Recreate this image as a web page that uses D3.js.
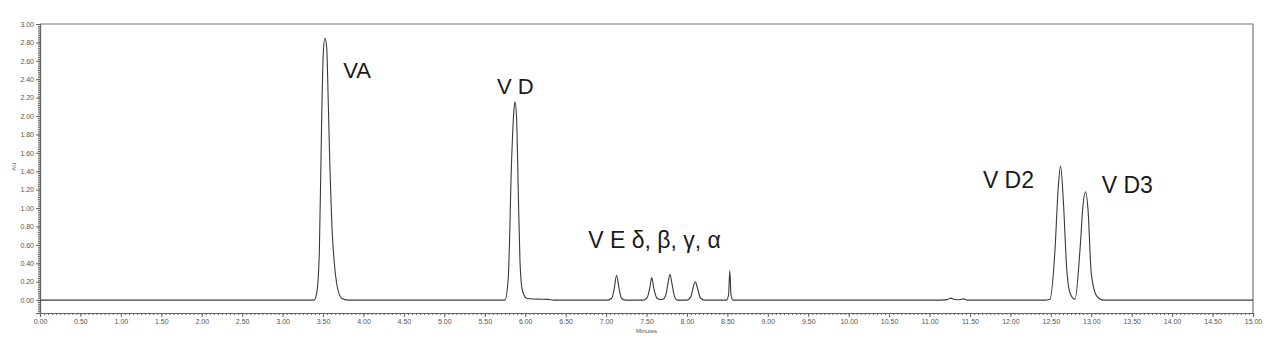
<!DOCTYPE html>
<html>
<head>
<meta charset="utf-8">
<script src="https://cdn.jsdelivr.net/npm/d3@7"></script>
<style>
  body { margin: 0; background: #fff; }
  svg { display: block; }
</style>
</head>
<body>
<script>
// retention time (minutes)
var traceTime = [
  0.00, 3.30, 3.388, 3.421, 3.454, 3.483, 3.503, 3.524, 3.545, 3.565, 3.586, 3.61, 3.64, 3.676, 3.73, 3.81,
  5.70, 5.75, 5.791, 5.832, 5.861, 5.874, 5.894, 5.915, 5.935, 5.964, 6.018, 6.10, 6.20, 6.28, 6.35,
  7.02, 7.07, 7.10, 7.13, 7.16, 7.19, 7.24,
  7.46, 7.51, 7.54, 7.565, 7.59, 7.63, 7.67, 7.705, 7.74, 7.765, 7.79, 7.815, 7.84, 7.88,
  8.00, 8.05, 8.08, 8.105, 8.13, 8.17, 8.22,
  8.49, 8.515, 8.53, 8.545, 8.57,
  11.15, 11.22, 11.26, 11.31, 11.37, 11.42, 11.47,
  12.42, 12.49, 12.551, 12.59, 12.62, 12.654, 12.695, 12.74, 12.80, 12.86, 12.90, 12.93, 12.96, 13.00, 13.07, 13.15, 15.00
];
// absorbance (AU) at each time above
var traceAU = [
  0.00, 0.00, 0.00, 0.07, 0.51, 1.96, 2.68, 2.845, 2.75, 2.14, 1.41, 0.80, 0.40, 0.145, 0.02, 0.00,
  0.00, 0.00, 0.25, 1.52, 2.07, 2.155, 1.96, 1.16, 0.435, 0.11, 0.02, 0.012, 0.01, 0.008, 0.00,
  0.00, 0.02, 0.12, 0.27, 0.13, 0.02, 0.00,
  0.00, 0.03, 0.13, 0.245, 0.13, 0.02, 0.006, 0.01, 0.06, 0.18, 0.28, 0.18, 0.06, 0.00,
  0.00, 0.04, 0.15, 0.20, 0.13, 0.02, 0.00,
  0.00, 0.06, 0.32, 0.06, 0.00,
  0.00, 0.005, 0.022, 0.006, 0.004, 0.013, 0.00,
  0.00, 0.01, 0.54, 1.20, 1.456, 1.09, 0.36, 0.07, 0.01, 0.54, 1.05, 1.177, 0.98, 0.29, 0.04, 0.00, 0.00
];

var peakLabels = ["VA", "V D", "V E δ, β, γ, α", "V D2", "V D3"];
var labelTime = [3.75, 5.65, 6.78, 11.66, 13.13];
var labelAU = [2.41, 2.24, 0.57, 1.22, 1.16];
var labelSize = [22, 22, 23, 23, 23];

var xTickLabels = d3.range(0, 15.001, 0.5);
var yTickLabels = d3.range(0, 3.001, 0.2);

var W = 1280, H = 352;
var margin = { top: 24, right: 27, bottom: 39, left: 40 };

var svg = d3.select("body").append("svg")
    .attr("width", W)
    .attr("height", H);

var x = d3.scaleLinear().domain([0, 15]).range([margin.left, W - margin.right]);
var y = d3.scaleLinear().domain([-0.14, 3.0]).range([H - margin.bottom, margin.top]);

var axisColor = "#666";
var textColor = "#555";

// frame top + right
svg.append("path")
    .attr("d", "M" + x(0) + "," + y(3) + "H" + x(15) + "V" + y(-0.14))
    .attr("fill", "none")
    .attr("stroke", "#777")
    .attr("stroke-width", 1.2);

// x axis
var xMinor = svg.append("g")
    .attr("transform", "translate(0," + y(-0.14) + ")")
    .call(d3.axisBottom(x).tickValues(d3.range(0, 15.001, 0.05)).tickSize(2).tickFormat(""));
var xMajor = svg.append("g")
    .attr("transform", "translate(0," + y(-0.14) + ")")
    .call(d3.axisBottom(x).tickValues(xTickLabels).tickSize(4).tickPadding(2).tickFormat(d3.format(".2f")));
[xMinor, xMajor].forEach(function(g) {
    g.select(".domain").attr("stroke", axisColor).attr("stroke-width", 1.2);
    g.selectAll("line").attr("stroke", axisColor);
});
xMajor.selectAll("text")
    .attr("fill", textColor)
    .style("font-family", "Liberation Sans, Arial, sans-serif")
    .style("font-size", "7px");

// y axis
var yMinor = svg.append("g")
    .attr("transform", "translate(" + x(0) + ",0)")
    .call(d3.axisLeft(y).tickValues(d3.range(-0.14, 3.001, 0.02)).tickSize(2).tickFormat(""));
var yMajor = svg.append("g")
    .attr("transform", "translate(" + x(0) + ",0)")
    .call(d3.axisLeft(y).tickValues(yTickLabels).tickSize(4).tickPadding(2).tickFormat(d3.format(".2f")));
[yMinor, yMajor].forEach(function(g) {
    g.select(".domain").attr("stroke", axisColor).attr("stroke-width", 1.2);
    g.selectAll("line").attr("stroke", axisColor);
});
yMajor.selectAll("text")
    .attr("fill", textColor)
    .style("font-family", "Liberation Sans, Arial, sans-serif")
    .style("font-size", "7px");

// axis titles
svg.append("text")
    .attr("x", (x(0) + x(15)) / 2)
    .attr("y", H - 19)
    .attr("text-anchor", "middle")
    .attr("fill", textColor)
    .style("font-family", "Liberation Sans, Arial, sans-serif")
    .style("font-size", "6px")
    .text("Minutes");

svg.append("text")
    .attr("transform", "translate(16," + y(1.45) + ") rotate(-90)")
    .attr("text-anchor", "middle")
    .attr("fill", textColor)
    .style("font-family", "Liberation Sans, Arial, sans-serif")
    .style("font-size", "6px")
    .text("AU");

// trace
var trace = traceTime.map(function(t, i) { return { t: t, v: traceAU[i] }; });
svg.append("path")
    .datum(trace)
    .attr("fill", "none")
    .attr("stroke", "#3a3a3a")
    .attr("stroke-width", 1.1)
    .attr("d", d3.line()
        .curve(d3.curveMonotoneX)
        .x(function(d) { return x(d.t); })
        .y(function(d) { return y(d.v); }));

// peak labels
svg.selectAll(".peak-label")
    .data(peakLabels)
    .enter().append("text")
    .attr("class", "peak-label")
    .attr("x", function(d, i) { return x(labelTime[i]); })
    .attr("y", function(d, i) { return y(labelAU[i]); })
    .attr("fill", "#1a1a1a")
    .style("font-family", "Liberation Sans, Arial, sans-serif")
    .style("font-size", function(d, i) { return labelSize[i] + "px"; })
    .style("white-space", "pre")
    .text(function(d) { return d; });
</script>
</body>
</html>
